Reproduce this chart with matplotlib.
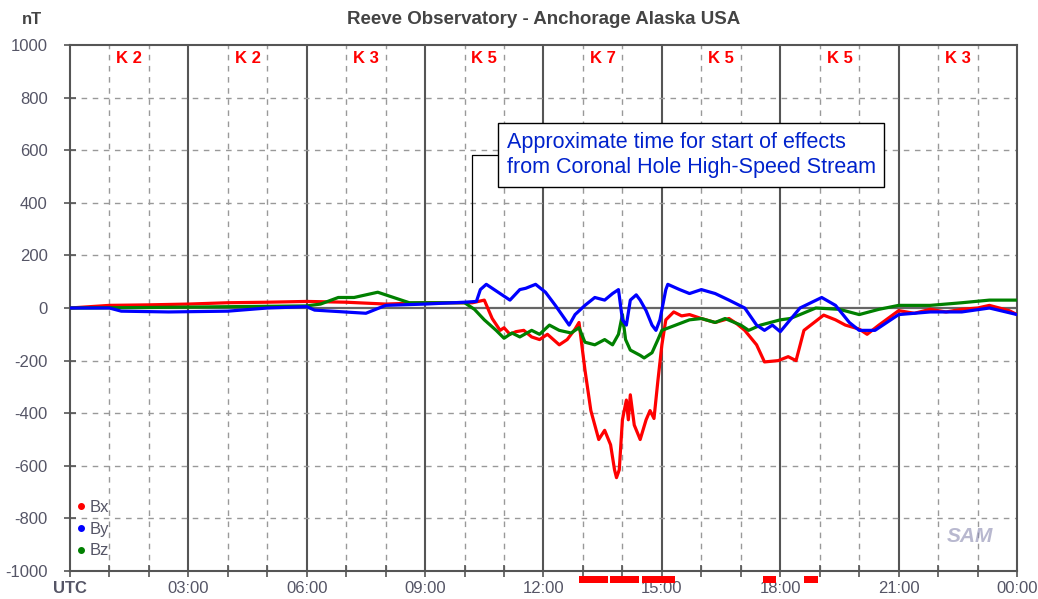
import matplotlib.pyplot as plt
from matplotlib.lines import Line2D
import numpy as np

plt.rcParams['font.family'] = ['Liberation Sans', 'DejaVu Sans']
plt.rcParams['axes.unicode_minus'] = False

# ── Data (hours UTC, nT) ────────────────────────────────────────────────────
bx_t = [0, 0.5, 1.0, 2.0, 3.0, 4.0, 5.0, 6.0, 7.0, 8.0, 9.0, 10.0, 10.2,
        10.5, 10.7, 10.9, 11.0, 11.15, 11.3, 11.5, 11.7, 11.9, 12.1, 12.4, 12.6,
        12.8, 12.9, 13.05, 13.2, 13.4, 13.55, 13.7, 13.8, 13.85, 13.92, 14.0,
        14.1, 14.15, 14.2, 14.3, 14.45, 14.6, 14.7, 14.8, 14.9, 15.0, 15.1,
        15.3, 15.5, 15.7, 16.0, 16.35, 16.7, 16.9, 17.1, 17.4, 17.6, 17.95,
        18.2, 18.4, 18.6, 19.1, 19.4, 19.65, 20.0, 20.2, 20.5, 21.0, 21.4,
        21.8, 22.2, 22.6, 23.0, 23.3, 23.8, 24.0]
bx_v = [0, 5, 10, 12, 15, 20, 22, 25, 22, 15, 20, 20, 20,
        30, -40, -85, -75, -100, -90, -85, -110, -120, -100, -140, -120,
        -80, -55, -235, -390, -500, -465, -520, -615, -645, -615, -425,
        -350, -425, -330, -445, -500, -425, -390, -420, -275, -140, -45,
        -15, -30, -25, -40, -55, -40, -60, -85, -140, -205, -200,
        -185, -200, -85, -27, -45, -65, -80, -100, -65, -10, -20,
        -5, -15, -5, 0, 10, -10, -25]

by_t = [0, 1.0, 1.3, 2.5, 4.0, 5.0, 6.0, 6.2, 7.5, 8.0, 9.0, 10.0, 10.3,
        10.4, 10.55, 10.7, 10.9, 11.15, 11.4, 11.55, 11.8, 12.05, 12.3, 12.65,
        12.8, 13.05, 13.3, 13.55, 13.75, 13.9, 14.0, 14.1, 14.2, 14.35, 14.45,
        14.6, 14.75, 14.85, 14.95, 15.1, 15.15, 15.45, 15.7, 16.0, 16.35,
        16.7, 17.1, 17.4, 17.6, 17.8, 18.0, 18.25, 18.5, 19.05, 19.4, 19.75,
        20.0, 20.4, 20.8, 21.0, 21.8, 22.6, 23.3, 24.0]
by_v = [0, 0, -12, -15, -12, 0, 5, -8, -20, 10, 15, 22, 25,
        70, 90, 75, 55, 30, 70, 75, 90, 60, 10, -65,
        -25, 10, 40, 30, 55, 70, -45, -65, 30, 50, 30,
        -10, -65, -85, -45, 70, 90, 70, 55, 70, 55,
        30, 0, -65, -85, -65, -90, -45, 0, 40, 10, -55,
        -85, -85, -45, -25, -15, -15, 0, -25]

bz_t = [0, 2.0, 4.0, 6.0, 6.35, 6.8, 7.2, 7.8, 8.6, 9.0, 10.0, 10.25,
        10.5, 10.8, 11.0, 11.2, 11.4, 11.7, 11.9, 12.15, 12.4, 12.7, 12.9,
        13.05, 13.3, 13.55, 13.75, 13.9, 14.0, 14.08, 14.2, 14.45, 14.55,
        14.75, 14.9, 15.0, 15.35, 15.7, 16.0, 16.35, 16.6, 17.0, 17.2, 17.5,
        18.0, 18.25, 18.5, 18.9, 19.5, 20.0, 20.5, 21.0, 21.8, 22.6, 23.3,
        24.0]
bz_v = [0, 2, 5, 8, 15, 40, 40, 60, 20, 20, 20, -5,
        -45, -85, -115, -95, -110, -85, -100, -65, -85, -95, -75,
        -130, -140, -120, -140, -100, -25, -120, -160, -180, -190,
        -170, -120, -85, -65, -45, -40, -55, -40, -65, -85, -65,
        -45, -40, -25, 0, -5, -25, -5, 10, 10, 20, 30,
        30]

k_hours = [1.5, 4.5, 7.5, 10.5, 13.5, 16.5, 19.5, 22.5]
k_index = [2, 2, 3, 5, 7, 5, 5, 3]

# red storm bars under the axis (start hour, duration)
storm_bars = [(12.9, 0.73), (13.68, 0.74), (14.5, 0.83), (17.56, 0.34), (18.6, 0.36)]

tick_hours = [0, 3, 6, 9, 12, 15, 18, 21, 24]
tick_labels = ['UTC', '03:00', '06:00', '09:00', '12:00', '15:00', '18:00', '21:00', '00:00']

RED, BLUE, GREEN = '#ff0000', '#0000ff', '#008000'
GREY_TXT = '#555566'

fig = plt.figure(figsize=(10.38, 5.99), dpi=100, facecolor='white')
ax = fig.add_axes([0.0674, 0.0467, 0.9124, 0.8782])

ax.set_xlim(0, 24)
ax.set_ylim(-1000, 1000)

# grid: dashed hourly / every 200 nT, solid every 3 h
for h in range(1, 24):
    if h % 3:
        ax.axvline(h, color='#999999', linestyle=(0, (4, 4)), linewidth=1.0, zorder=1)
    else:
        ax.axvline(h, color='#555555', linewidth=1.5, zorder=1)
for v in range(-800, 1000, 200):
    if v == 0:
        ax.axhline(0, color='#666666', linewidth=1.6, zorder=1)
    else:
        ax.axhline(v, color='#999999', linestyle=(0, (4, 4)), linewidth=1.0, zorder=1)

ax.plot(bx_t, bx_v, color=RED, linewidth=2.3, zorder=3)
ax.plot(bz_t, bz_v, color=GREEN, linewidth=2.3, zorder=3)
ax.plot(by_t, by_v, color=BLUE, linewidth=2.3, zorder=4)

for h, k in zip(k_hours, k_index):
    ax.text(h, 950, f'K {k}', color=RED, fontsize=12, fontweight='bold',
            ha='center', va='center', zorder=5)

ax.broken_barh(storm_bars, (-1046, 26), facecolors=RED, clip_on=False, zorder=6)

# annotation with elbow leader
ax.plot([10.19, 10.19, 10.82], [99, 582, 582], color='black', linewidth=0.9, zorder=5)
ax.text(11.07, 582, 'Approximate time for start of effects\nfrom Coronal Hole High-Speed Stream',
        color='#0022cc', fontsize=15.5, ha='left', va='center', linespacing=1.3, zorder=6,
        bbox=dict(boxstyle='square,pad=0.4', facecolor='white', edgecolor='black', linewidth=1))

# legend with dots
handles = [Line2D([], [], marker='o', linestyle='', color=c, markersize=4) for c in (RED, BLUE, GREEN)]
leg = ax.legend(handles, ['Bx', 'By', 'Bz'], loc='lower left', frameon=False, fontsize=12,
                handlelength=0.5, handletextpad=0.25, labelspacing=0.4, borderaxespad=0.2,
                bbox_to_anchor=(-0.003, 0.005))
for t in leg.get_texts():
    t.set_color(GREY_TXT)

ax.text(0.95, 0.065, 'SAM', transform=ax.transAxes, fontsize=15, fontstyle='italic',
        fontweight='bold', color='#8a8ab0', alpha=0.6, ha='center', va='center')

ax.set_xticks(tick_hours)
ax.set_xticklabels(tick_labels)
ax.set_xticks(range(25), minor=True)
ax.set_yticks(range(-1000, 1001, 200))
ax.tick_params(axis='both', which='both', direction='inout', colors='#555555',
               labelcolor=GREY_TXT, labelsize=12, width=1.2)
ax.tick_params(axis='x', which='major', length=8, pad=3)
ax.tick_params(axis='x', which='minor', length=8)
ax.tick_params(axis='y', length=8, pad=12)
ax.get_xticklabels()[0].set_fontweight('bold')
for s in ax.spines.values():
    s.set_color('#555555')
    s.set_linewidth(1.5)

fig.text(0.5235, 0.967, 'Reeve Observatory - Anchorage Alaska USA', ha='center', va='center',
         fontsize=13.5, fontweight='bold', color='#444444')
fig.text(0.031, 0.968, 'nT', ha='center', va='center', fontsize=12, fontweight='bold',
         color='#444444')

fig.savefig('out.png', dpi=100, facecolor='white')
